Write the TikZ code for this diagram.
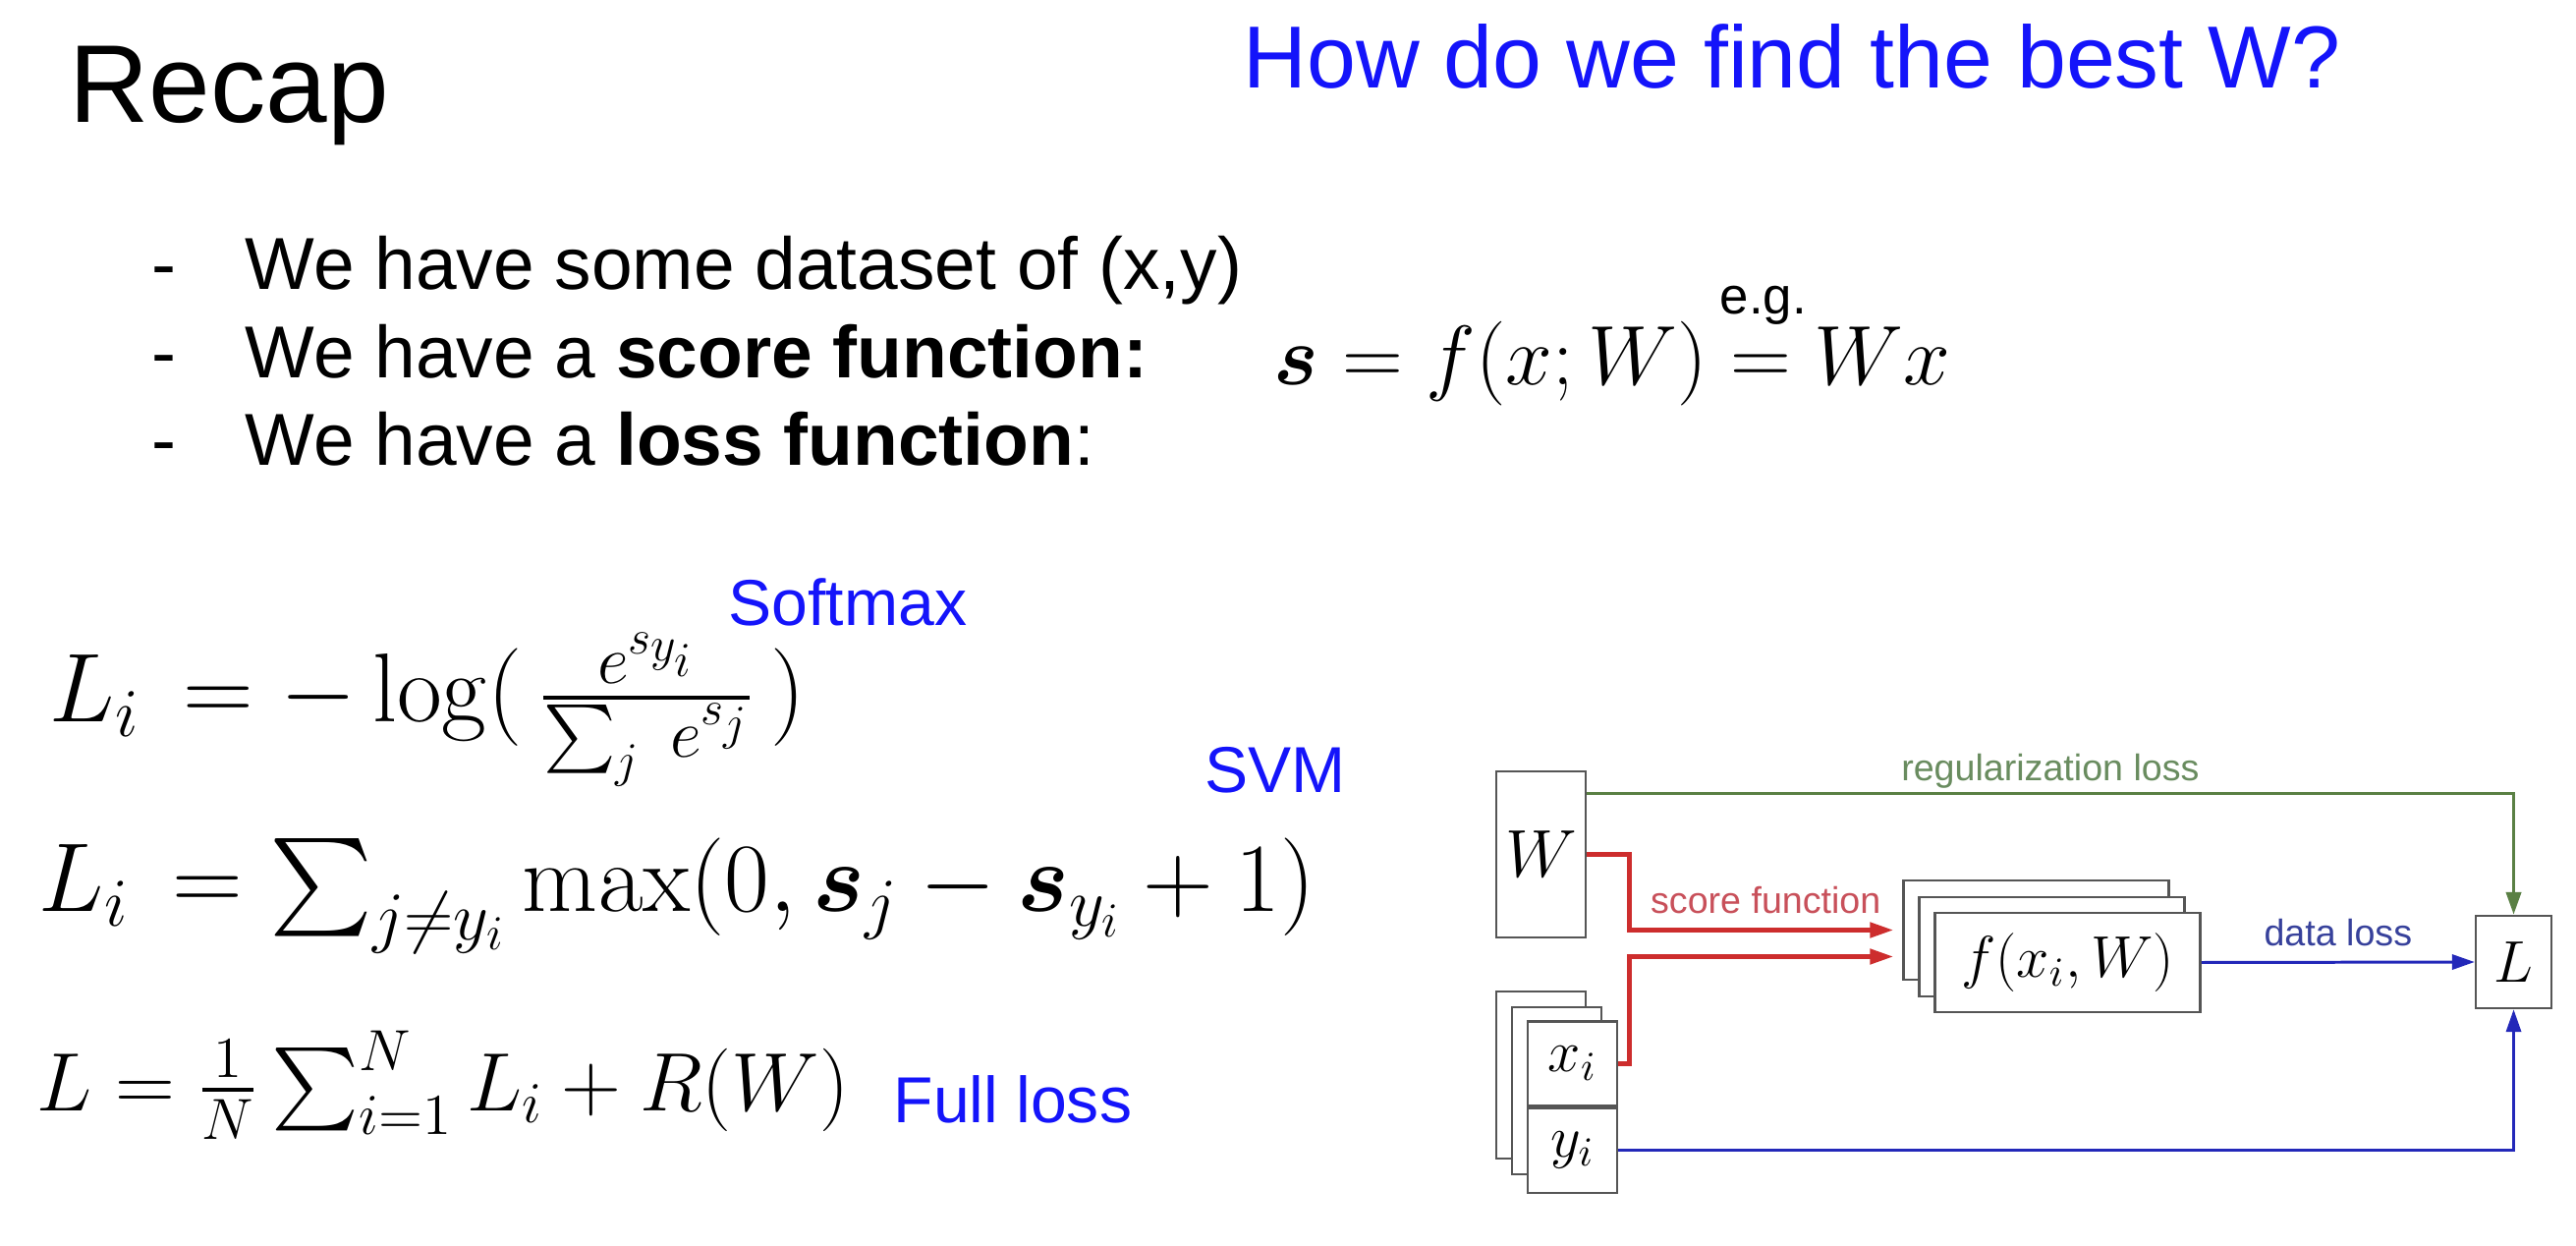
\RequirePackage{fix-cm}
\documentclass[tikz,border=0pt]{standalone}
\usepackage{amsmath,amssymb}
\usepackage[no-math]{fontspec}
\setmainfont{Liberation Sans}
\usepackage{tikz}
\usetikzlibrary{arrows.meta}
\usetikzlibrary{positioning}
\definecolor{slideblue}{RGB}{20,20,250}
\definecolor{boxgray}{RGB}{85,85,85}
\definecolor{scorered}{RGB}{205,45,45}
\definecolor{scoretext}{RGB}{200,80,90}
\definecolor{reggreen}{RGB}{90,128,68}
\definecolor{regtext}{RGB}{105,140,95}
\definecolor{lossblue}{RGB}{35,40,185}
\definecolor{losstext}{RGB}{55,65,155}
\tikzset{
    heading/.style={anchor=base west, inner sep=0pt, font=\fontsize{32}{38}\selectfont},
    question/.style={anchor=base west, inner sep=0pt, text=slideblue, font=\fontsize{25.5}{30}\selectfont},
    slidetext/.style={anchor=base west, inner sep=0pt, font=\fontsize{21.3}{26}\selectfont},
    losslabel/.style={anchor=base west, inner sep=0pt, text=slideblue, font=\fontsize{18.8}{23}\selectfont},
    formula/.style={anchor=base west, inner sep=0pt},
    bigmath/.style={font=\fontsize{28.3}{34}\selectfont},
    diagmath/.style={font=\fontsize{17}{20}\selectfont},
    diaglabel/.style={anchor=base, inner sep=0pt, font=\fontsize{10.7}{13}\selectfont},
    box/.style={draw=boxgray, line width=0.7pt, fill=white, inner sep=0pt},
    fbox/.style={box, minimum width=2.7cm, minimum height=1.01cm},
    databox/.style={box, minimum width=0.91cm, minimum height=1.7cm},
    scorearrow/.style={draw=scorered, line width=1.28pt, shorten >=2.56pt,
        -{Triangle[length=6.8pt,width=4.3pt]}},
    regline/.style={draw=reggreen, line width=1pt, -{Triangle[length=6.5pt,width=4.3pt]}},
    lossarrow/.style={draw=lossblue, line width=0.85pt, -{Triangle[length=6.5pt,width=4.3pt]}},
}
\begin{document}
\begin{tikzpicture}[x=0.01cm, y=-0.01cm]
    \useasboundingbox (0,0) rectangle (2622,1268);
    % heading
    \node[heading] (recap) at (70,125) {Recap};
    \node[question] (question) at (1265,90) {How do we find the best W?};
    % bullets
    \node[slidetext] (dash1) at (154,295) {-};
    \node[slidetext] (dash2) at (154,385) {-};
    \node[slidetext] (dash3) at (154,474) {-};
    \node[slidetext] (item1) at (249,295) {We have some dataset of (x,y)};
    \node[slidetext] (item2) at (249,385) {We have a \textbf{score function:}};
    \node[slidetext] (item3) at (249,474) {We have a \textbf{loss function}:};
    \node[formula, font=\fontsize{15}{18}\selectfont] (eg) at (1750,320) {e.g.};
    \node[formula, font=\fontsize{24.4}{30}\selectfont] (score) at (1296,392)
        {$\boldsymbol{s} = f(x;W) = Wx$};
    % losses
    \node[formula, bigmath] (softmax) at (50,735)
        {$L_i \,= -\log(\,\frac{e^{s_{y_i}}}{\sum_j\; e^{s_j}}\,)$};
    \node[formula, bigmath] (svm) at (39,928)
        {$L_i \,= \sum_{j\neq y_i}\max(0, \boldsymbol{s}_j - \boldsymbol{s}_{y_i} + 1)$};
    \node[formula, font=\fontsize{24}{29}\selectfont] (full) at (37,1130)
        {$L = \frac{1}{N}\sum_{i=1}^N L_i + R(W)$};
    \node[losslabel] (softmaxlbl) at (741,637) {Softmax};
    \node[losslabel] (svmlbl) at (1226,807) {SVM};
    \node[losslabel] (fulllbl) at (909,1142) {Full loss};
    % diagram
    \node[box, minimum width=0.91cm, minimum height=1.69cm, font=\fontsize{19.5}{24}\selectfont]
        (Wbox) at (1568.5,869.5) {$W$};
    \node[databox] (xa) at (1568.5,1094) {};
    \node[databox] (xb) at ([shift={(16,16)}]xa) {};
    \node[box, diagmath, minimum width=0.91cm, minimum height=0.855cm] (xi) at (1600.5,1082.5) {$x_i$};
    \node[box, diagmath, minimum width=0.91cm, minimum height=0.86cm, below=0pt of xi] (yi) {$y_i$};
    \node[fbox] (fBack) at (2072.5,946.5) {};
    \node[fbox] (fMid) at ([shift={(16,17)}]fBack) {};
    \node[fbox, diagmath] (fFront) at ([shift={(16,16)}]fMid) {$f(x_i, W)$};
    \node[box, diagmath, minimum width=0.77cm, minimum height=0.94cm] (Lbox) at (2558.5,979) {$L$};
    % connectors
    \coordinate (regStart) at ([shift={(0,24)}]Wbox.north east);
    \draw[regline] (regStart) -| node[pos=0.25, diaglabel, text=regtext, yshift=3.7pt]
        {regularization loss} (Lbox.north);
    \draw[scorearrow] (Wbox.east) -- ++(43,0) |- node[pos=0.75, diaglabel, text=scoretext, yshift=4.8pt]
        {score function} (fBack.west);
    \draw[scorearrow] (xi.east) -- ++(11,0) |- ([shift={(0,27)}]fBack.west);
    \draw[lossarrow] (fFront.east) -- node[diaglabel, text=losstext, yshift=4.8pt] {data loss} (Lbox.west);
    \draw[lossarrow] (yi.east) -| (Lbox.south);
\end{tikzpicture}
\end{document}
